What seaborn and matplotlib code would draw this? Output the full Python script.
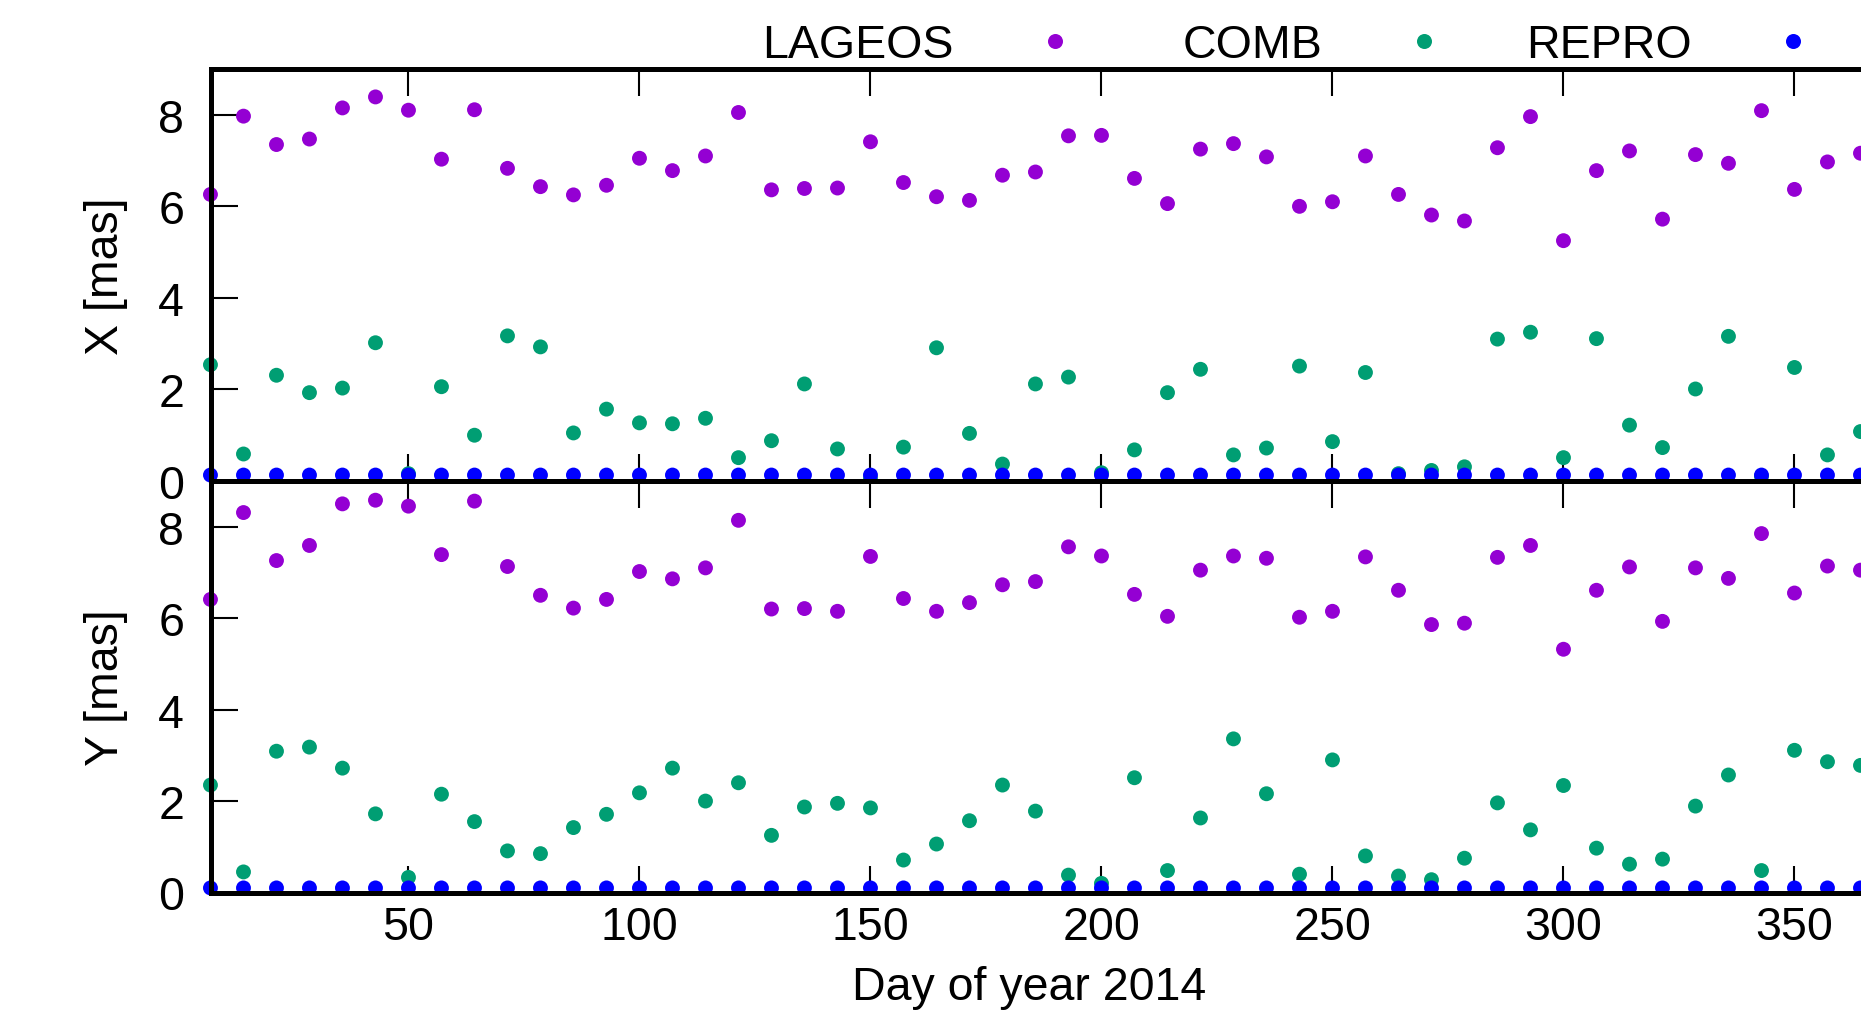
import matplotlib
matplotlib.use("Agg")
import matplotlib.pyplot as plt
from matplotlib.lines import Line2D
import seaborn as sns
import pandas as pd

# day of year 2014 (weekly solutions)
days = [7.14, 14.29, 21.43, 28.57, 35.71, 42.86, 50.0, 57.14, 64.29, 71.43,
        78.57, 85.71, 92.86, 100.0, 107.14, 114.29, 121.43, 128.57, 135.71, 142.86,
        150.0, 157.14, 164.29, 171.43, 178.57, 185.71, 192.86, 200.0, 207.14, 214.29,
        221.43, 228.57, 235.71, 242.86, 250.0, 257.14, 264.29, 271.43, 278.57, 285.71,
        292.86, 300.0, 307.14, 314.29, 321.43, 328.57, 335.71, 342.86, 350.0, 357.14,
        364.29]

series_names = ["LAGEOS", "COMB", "REPRO"]
series_colors = ["#9400D3", "#009E73", "#0000FF"]

# X pole coordinate [mas]
x_lageos = [6.26, 7.97, 7.35, 7.47, 8.15, 8.39, 8.10, 7.03, 8.11, 6.83,
            6.43, 6.25, 6.46, 7.05, 6.78, 7.10, 8.05, 6.36, 6.39, 6.40,
            7.41, 6.52, 6.21, 6.13, 6.68, 6.75, 7.54, 7.55, 6.61, 6.06,
            7.25, 7.37, 7.08, 6.00, 6.10, 7.10, 6.26, 5.81, 5.68, 7.28,
            7.96, 5.25, 6.78, 7.21, 5.72, 7.13, 6.94, 8.09, 6.37, 6.97,
            7.16]
x_comb = [2.54, 0.59, 2.31, 1.93, 2.03, 3.02, 0.16, 2.06, 1.00, 3.17,
          2.93, 1.05, 1.57, 1.27, 1.25, 1.37, 0.51, 0.88, 2.12, 0.70,
          0.05, 0.74, 2.91, 1.04, 0.37, 2.12, 2.27, 0.18, 0.68, 1.93,
          2.44, 0.57, 0.72, 2.51, 0.86, 2.37, 0.16, 0.23, 0.31, 3.10,
          3.25, 0.51, 3.11, 1.22, 0.73, 2.01, 3.16, 0.10, 2.48, 0.57,
          1.08]
x_repro = [0.13, 0.13, 0.13, 0.13, 0.13, 0.13, 0.13, 0.13, 0.13, 0.13,
           0.13, 0.13, 0.13, 0.13, 0.13, 0.13, 0.13, 0.13, 0.13, 0.13,
           0.13, 0.13, 0.13, 0.13, 0.13, 0.13, 0.13, 0.13, 0.13, 0.13,
           0.13, 0.13, 0.13, 0.13, 0.13, 0.13, 0.13, 0.13, 0.13, 0.13,
           0.13, 0.13, 0.13, 0.13, 0.13, 0.13, 0.13, 0.13, 0.13, 0.13,
           0.13]

# Y pole coordinate [mas]
y_lageos = [6.41, 8.31, 7.26, 7.59, 8.50, 8.58, 8.45, 7.39, 8.56, 7.13,
            6.50, 6.22, 6.41, 7.02, 6.86, 7.10, 8.14, 6.20, 6.21, 6.15,
            7.35, 6.43, 6.15, 6.34, 6.73, 6.80, 7.56, 7.36, 6.52, 6.04,
            7.05, 7.36, 7.31, 6.02, 6.15, 7.34, 6.61, 5.86, 5.89, 7.33,
            7.59, 5.32, 6.61, 7.12, 5.93, 7.10, 6.87, 7.85, 6.55, 7.14,
            7.05]
y_comb = [2.35, 0.45, 3.09, 3.18, 2.72, 1.72, 0.33, 2.15, 1.55, 0.91,
          0.85, 1.42, 1.71, 2.18, 2.72, 2.00, 2.40, 1.25, 1.87, 1.95,
          1.85, 0.71, 1.06, 1.57, 2.35, 1.78, 0.38, 0.20, 2.51, 0.48,
          1.63, 3.36, 2.16, 0.40, 2.90, 0.80, 0.36, 0.28, 0.75, 1.96,
          1.37, 2.34, 0.97, 0.62, 0.73, 1.89, 2.57, 0.48, 3.11, 2.86,
          2.78]
y_repro = [0.10, 0.10, 0.10, 0.10, 0.10, 0.10, 0.10, 0.10, 0.10, 0.10,
           0.10, 0.10, 0.10, 0.10, 0.10, 0.10, 0.10, 0.10, 0.10, 0.10,
           0.10, 0.10, 0.10, 0.10, 0.10, 0.10, 0.10, 0.10, 0.10, 0.10,
           0.10, 0.10, 0.10, 0.10, 0.10, 0.10, 0.10, 0.10, 0.10, 0.10,
           0.10, 0.10, 0.10, 0.10, 0.10, 0.10, 0.10, 0.10, 0.10, 0.10,
           0.10]

x_ticks = [50, 100, 150, 200, 250, 300, 350]
y_ticks = [0, 2, 4, 6, 8]

sns.set_style("white")
plt.rcParams["font.family"] = ["Liberation Sans", "DejaVu Sans"]
plt.rcParams["text.color"] = "black"
plt.rcParams["axes.labelcolor"] = "black"
plt.rcParams["xtick.color"] = "black"
plt.rcParams["ytick.color"] = "black"
FS = 33.5
W, H = 1861, 1012


def long_frame(lageos, comb, repro):
    parts = []
    for name, vals in zip(series_names, [lageos, comb, repro]):
        parts.append(pd.DataFrame({"day": days, "value": vals, "series": name}))
    return pd.concat(parts, ignore_index=True)


fig = plt.figure(figsize=(W / 100, H / 100), dpi=100)
left = 210.5 / W
ax_top = fig.add_axes([left, 1 - 482 / H, 1 - left, 412 / H])
ax_bot = fig.add_axes([left, 1 - 893.5 / H, 1 - left, 411.5 / H])

palette = dict(zip(series_names, series_colors))
for ax, df in [(ax_top, long_frame(x_lageos, x_comb, x_repro)),
               (ax_bot, long_frame(y_lageos, y_comb, y_repro))]:
    sns.scatterplot(data=df, x="day", y="value", hue="series", palette=palette,
                    s=115, linewidth=0, legend=False, ax=ax, clip_on=False)
    ax.set_xlim(7.15, 364.4)
    ax.set_ylim(0, 9)
    ax.set_xticks(x_ticks)
    ax.set_yticks(y_ticks)
    ax.set_xlabel("")
    ax.set_ylabel("")
    for side in ["left", "top", "bottom"]:
        ax.spines[side].set_linewidth(3.6)
        ax.spines[side].set_color("black")
    ax.spines["right"].set_visible(False)
    ax.tick_params(axis="x", direction="in", length=19.5, width=1.5, top=True,
                   bottom=True, labelsize=FS, pad=9, colors="black")
    ax.tick_params(axis="y", direction="in", length=19.5, width=1.5, left=True,
                   right=False, labelsize=FS, pad=19, colors="black")

ax_top.tick_params(axis="x", labelbottom=False)

fig.text(106 / W, 1 - 276 / H, "X [mas]", rotation=90, ha="center", va="center",
         fontsize=FS, color="black")
fig.text(106 / W, 1 - 688 / H, "Y [mas]", rotation=90, ha="center", va="center",
         fontsize=FS, color="black")
fig.text(1029 / W, 1 - 1000 / H, "Day of year 2014", ha="center", va="baseline",
         fontsize=FS, color="black")

# gnuplot-style key: label then marker, one entry per series
marker_x = [1055, 1424, 1793]
em = FS * 100 / 72
hl = 0.8
for name, color, mx in zip(series_names, series_colors, marker_x):
    h = Line2D([], [], linestyle="none", marker="o", markersize=10.8,
               markerfacecolor=color, markeredgewidth=0)
    leg = fig.legend(handles=[h], labels=[name], loc="center right",
                     bbox_to_anchor=((mx + hl / 2 * em) / W, 1 - 46 / H),
                     markerfirst=False, frameon=False, handlelength=hl,
                     handletextpad=(101.5 - hl / 2 * em) / em, borderpad=0,
                     borderaxespad=0, fontsize=FS)
    for t in leg.get_texts():
        t.set_color("black")

fig.savefig("out.png", dpi=100)
